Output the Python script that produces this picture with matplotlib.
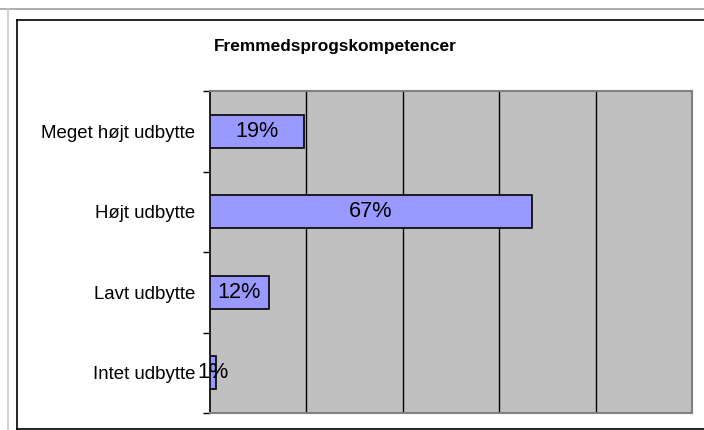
import matplotlib
matplotlib.use("Agg")
import matplotlib.pyplot as plt
from matplotlib.lines import Line2D

categories = ["Meget højt udbytte", "Højt udbytte", "Lavt udbytte", "Intet udbytte"]
values = [19.5, 66.9, 12.4, 1.4]
labels = ["19%", "67%", "12%", "1%"]
title = "Fremmedsprogskompetencer"

plt.rcParams['font.family'] = ['Liberation Sans', 'DejaVu Sans']

W, H = 704, 430
fig = plt.figure(figsize=(W / 100, H / 100), dpi=100)
fig.patch.set_facecolor("white")

# outer frame lines
fig.add_artist(Line2D([0, 1], [1 - 9 / H, 1 - 9 / H], transform=fig.transFigure, color="#a0a0a0", lw=1.2))
fig.add_artist(Line2D([8 / W, 8 / W], [0, 1 - 9 / H], transform=fig.transFigure, color="#c8c8c8", lw=1.2))
fig.add_artist(Line2D([17 / W, 1.01], [1 - 19.5 / H, 1 - 19.5 / H], transform=fig.transFigure, color="black", lw=1.2))
fig.add_artist(Line2D([17 / W, 17 / W], [1 - 19.5 / H, 1 - 429 / H], transform=fig.transFigure, color="black", lw=1.2))
fig.add_artist(Line2D([17 / W, 1.01], [1 - 428.5 / H, 1 - 428.5 / H], transform=fig.transFigure, color="black", lw=1.2))

left, right, top, bottom = 209.5, 692, 91, 413
ax = fig.add_axes([left / W, 1 - bottom / H, (right - left) / W, (bottom - top) / H])
ax.set_facecolor("#c0c0c0")

y = list(range(len(categories)))
ax.barh(y, values, height=0.41, color="#9999ff", edgecolor="black", linewidth=1.2, zorder=3)
for yi, v, lab in zip(y, values, labels):
    ax.text(v / 2, yi, lab, ha="center", va="center", fontsize=15.6, color="black", zorder=4)

ax.set_xlim(0, 100)
ax.set_ylim(len(categories) - 0.5, -0.5)
ax.set_xticks([20, 40, 60, 80])
ax.xaxis.grid(True, color="black", linewidth=1.0, zorder=1)
ax.tick_params(axis="x", length=0, labelbottom=False)

ax.set_yticks(y)
ax.set_yticklabels(categories, fontsize=13.4)
ax.set_yticks([i - 0.5 for i in range(len(categories) + 1)], minor=True)
ax.tick_params(axis="y", which="major", length=0, pad=10)
ax.tick_params(axis="y", which="minor", length=5, width=1, color="black", direction="out")

for s in ["top", "right", "bottom"]:
    ax.spines[s].set_color("#808080")
    ax.spines[s].set_linewidth(1.5)
ax.spines["left"].set_color("black")
ax.spines["left"].set_linewidth(1.2)

fig.text(335 / W, 1 - 46 / H, title, ha="center", va="center", fontsize=12.4, fontweight="bold")

fig.savefig("out.png", dpi=100)
